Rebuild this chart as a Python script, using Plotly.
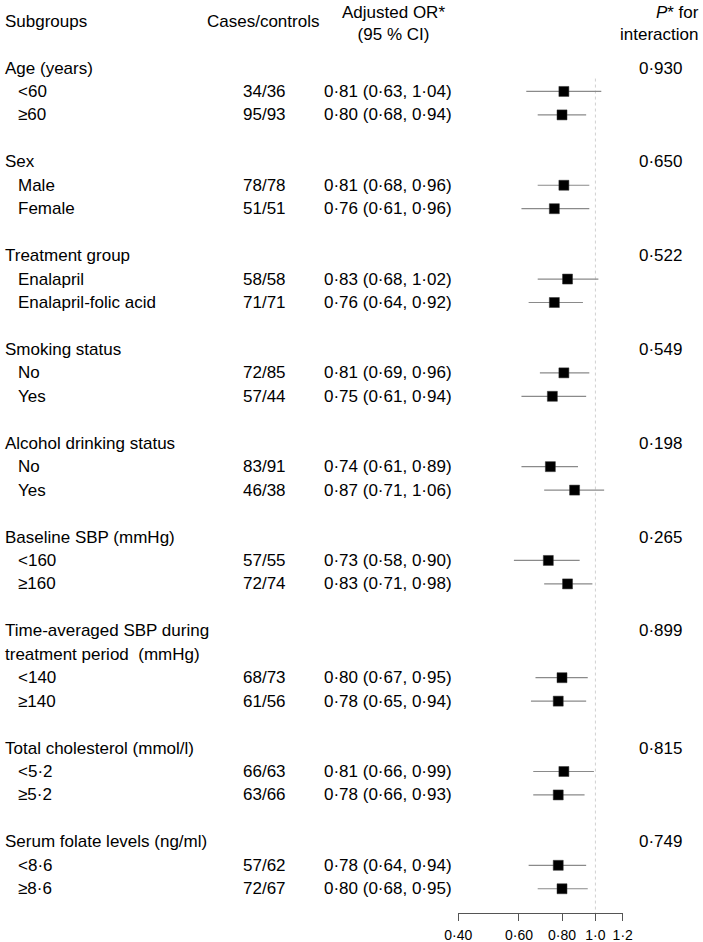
import math
import plotly.graph_objects as go

# ---------------- data ----------------
group_titles = [
    ["Age (years)"],
    ["Sex"],
    ["Treatment group"],
    ["Smoking status"],
    ["Alcohol drinking status"],
    ["Baseline SBP (mmHg)"],
    ["Time-averaged SBP during", "treatment period  (mmHg)"],
    ["Total cholesterol (mmol/l)"],
    ["Serum folate levels (ng/ml)"],
]
p_interaction = ["0·930", "0·650", "0·522", "0·549", "0·198", "0·265", "0·899", "0·815", "0·749"]

subgroup_labels = [
    ["<60", "≥60"],
    ["Male", "Female"],
    ["Enalapril", "Enalapril-folic acid"],
    ["No", "Yes"],
    ["No", "Yes"],
    ["<160", "≥160"],
    ["<140", "≥140"],
    ["<5·2", "≥5·2"],
    ["<8·6", "≥8·6"],
]
cases_controls = [
    ["34/36", "95/93"],
    ["78/78", "51/51"],
    ["58/58", "71/71"],
    ["72/85", "57/44"],
    ["83/91", "46/38"],
    ["57/55", "72/74"],
    ["68/73", "61/56"],
    ["66/63", "63/66"],
    ["57/62", "72/67"],
]
odds_ratio = [
    [0.81, 0.80], [0.81, 0.76], [0.83, 0.76], [0.81, 0.75], [0.74, 0.87],
    [0.73, 0.83], [0.80, 0.78], [0.81, 0.78], [0.78, 0.80],
]
ci_low = [
    [0.63, 0.68], [0.68, 0.61], [0.68, 0.64], [0.69, 0.61], [0.61, 0.71],
    [0.58, 0.71], [0.67, 0.65], [0.66, 0.66], [0.64, 0.68],
]
ci_high = [
    [1.04, 0.94], [0.96, 0.96], [1.02, 0.92], [0.96, 0.94], [0.89, 1.06],
    [0.90, 0.98], [0.95, 0.94], [0.99, 0.93], [0.94, 0.95],
]
x_tickvals = [0.40, 0.60, 0.80, 1.0, 1.2]
x_ticktext = ["0·40", "0·60", "0·80", "1·0", "1·2"]

# ---------------- layout helpers ----------------
W, H = 703, 942
FONT = "Liberation Sans, Arial, sans-serif"
FS = 17
ROW0_PX = 68.0      # pixel of row 0
ROW_PX = 23.45      # pixel per row
AXIS_PX = 913.0     # pixel of x axis line

y_top = -ROW0_PX / ROW_PX
y_bottom = (AXIS_PX - ROW0_PX) / ROW_PX


def px(xp):
    return xp / W


def dot(v):
    return f"{v:.2f}".replace(".", "·")


annotations = []


def add_text(text, xpix, row, anchor="left", size=FS, align="left"):
    annotations.append(dict(
        text=text, x=px(xpix), xref="paper", y=row, yref="y",
        xanchor=anchor, yanchor="middle", showarrow=False, align=align,
        font=dict(family=FONT, size=size, color="#000000"),
    ))


# headers
add_text("Subgroups", 3, -1.98)
add_text("Cases/controls", 263, -1.98, anchor="center")
add_text("Adjusted OR*<br>(95 % CI)", 393, -1.9, anchor="center", align="center")
add_text("<i>P</i>* for<br>interaction", 701, -1.9, anchor="right", align="right")

pt_rows, pt_or, pt_plus, pt_minus = [], [], [], []
row = 0
for g, titles in enumerate(group_titles):
    for k, t in enumerate(titles):
        add_text(t, 3, row + k)
    add_text(p_interaction[g], 660, row, anchor="center")
    row += len(titles)
    for s in range(2):
        add_text(subgroup_labels[g][s], 15.5, row)
        add_text(cases_controls[g][s], 288, row, anchor="right")
        o, lo, hi = odds_ratio[g][s], ci_low[g][s], ci_high[g][s]
        add_text(f"{dot(o)} ({dot(lo)}, {dot(hi)})", 322, row)
        pt_rows.append(row)
        pt_or.append(o)
        pt_plus.append(hi - o)
        pt_minus.append(o - lo)
        row += 1
    row += 1

fig = go.Figure()
fig.add_trace(go.Scatter(
    x=pt_or, y=pt_rows, mode="markers",
    marker=dict(symbol="square", size=10, color="#000000",
                line=dict(width=0.5, color="#333333")),
    error_x=dict(type="data", array=pt_plus, arrayminus=pt_minus,
                 symmetric=False, width=0, thickness=1.2, color="#8a8a8a"),
    showlegend=False, hoverinfo="skip", cliponaxis=False,
))

fig.add_shape(type="line", xref="x", yref="y", x0=1.0, x1=1.0,
              y0=0.45, y1=y_bottom, layer="below",
              line=dict(color="#d0d0d0", width=1, dash="dot"))

x_left_px, x_right_px = 458.3, 622.7
fig.update_layout(
    width=W, height=H,
    margin=dict(l=0, r=0, t=0, b=0, pad=0, autoexpand=False),
    paper_bgcolor="white", plot_bgcolor="white",
    font=dict(family=FONT, size=FS, color="#000000"),
    annotations=annotations,
    xaxis=dict(
        type="log",
        range=[math.log10(x_tickvals[0]), math.log10(x_tickvals[-1])],
        domain=[px(x_left_px), px(x_right_px)],
        showline=True, linecolor="#555555", linewidth=1,
        ticks="outside", ticklen=7, tickcolor="#555555", tickwidth=1,
        tickvals=x_tickvals, ticktext=x_ticktext,
        tickfont=dict(family=FONT, size=14, color="#000000"),
        ticklabelstandoff=2, automargin=False,
        showgrid=False, zeroline=False, fixedrange=True,
    ),
    yaxis=dict(
        range=[y_bottom, y_top],
        domain=[(H - AXIS_PX) / H, 1],
        visible=False, showgrid=False, zeroline=False, fixedrange=True,
        automargin=False,
    ),
)

fig.write_html("out.html", post_script="document.body.style.margin='0';",
               config={"displayModeBar": False})
